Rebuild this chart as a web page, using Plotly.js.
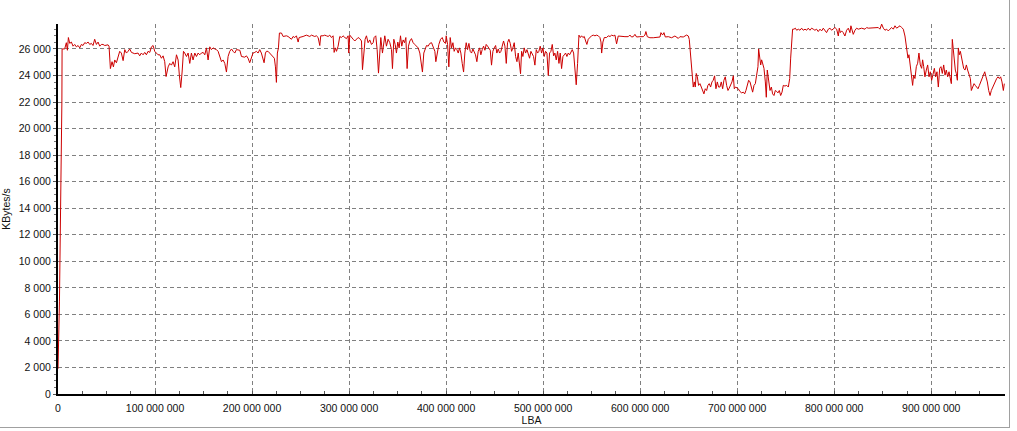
<!DOCTYPE html>
<html>
<head>
<meta charset="utf-8">
<script src="https://cdn.plot.ly/plotly-3.0.1.min.js"></script>
<style>
  html, body { margin: 0; padding: 0; background: #ffffff; }
  #chart { width: 1017px; height: 431px; position: relative; }
  #frame { position: absolute; left: 0; top: 0; width: 1009px; height: 427px;
           border-right: 1px solid #a0a0a0; border-bottom: 1px solid #a0a0a0; pointer-events: none; }
</style>
</head>
<body>
<div id="chart"></div>
<div id="frame"></div>
<script>
// LBA positions (millions of sectors) and transfer rate (KBytes/s)
const lbaMillions = [
  0, 1.5, 4.0,
  4.2, 6.9, 8.6, 9.7, 10.7, 12.1, 13.8, 15.5, 17.2, 18.9, 20.7, 22.4, 24.1, 25.8, 27.5, 29.3, 31.0, 32.7, 34.4, 36.1, 37.8, 39.6, 41.3, 43.0, 44.7, 46.4, 48.2, 51.6, 52.6, 54.0, 55.7, 57.1, 58.5, 60.2, 61.9, 63.6, 65.3, 67.1, 68.8, 70.5, 72.2, 73.9, 75.7, 79.1, 82.5, 84.2, 85.9, 87.7, 89.4, 91.1, 92.8, 94.6, 96.3, 98.0, 99.7, 101.4, 103.1, 104.9, 106.6, 108.3, 110.0, 111.4, 113.5, 115.2, 116.9, 118.6, 120.3, 122.1, 123.8, 125.1, 126.5, 127.9, 129.3, 130.6, 132.4, 134.1, 135.8, 137.5, 139.2, 141.0, 142.7, 144.4, 146.1, 147.8, 149.6, 151.3, 153.0, 154.7, 156.4, 158.1, 159.9, 161.6, 163.3, 165.0, 166.7, 168.5, 170.2, 171.9, 173.6, 175.3, 177.0, 178.8, 180.5, 182.2, 183.9, 185.6, 187.4, 189.1, 190.8, 192.5,
  194.2, 195.9, 197.6, 199.3, 201.0, 202.8, 204.5, 206.2, 207.9, 209.6, 211.4, 212.4, 213.8, 214.8, 216.5, 218.2, 220.0, 221.7, 223.0, 224.1, 225.1, 226.1, 227.2, 228.2, 230.3, 232.0, 235.4, 237.1, 238.9, 240.6, 242.3, 244.0, 245.7, 247.5, 248.5, 250.9, 252.6, 256.0, 257.8, 259.5, 261.2, 264.6, 266.3, 268.1, 269.8, 270.8, 273.2, 274.9, 276.7, 278.4, 280.1, 281.8, 283.5, 284.6, 285.9, 287.0, 288.7, 290.4, 292.1, 293.8, 295.6, 297.3, 299.0, 299.7, 300.7, 302.4, 304.2, 305.9, 307.6, 309.3, 311.0, 312.8, 313.8, 315.2, 316.5, 317.9, 319.6, 321.3, 323.1, 324.8, 325.8, 327.5, 328.9, 330.3, 331.7, 332.7, 334.4, 335.8, 336.8, 338.5, 340.2, 342.0, 343.7, 344.7, 346.1, 347.5, 348.8, 350.2, 351.6, 353.0, 354.3, 355.7, 357.1, 358.5, 359.8, 361.2, 362.6, 364.3, 366.0, 367.7, 369.5, 371.2, 372.9, 374.6, 375.6, 377.0, 378.4, 379.8, 381.5, 383.2,
  385.0, 386.7, 388.4, 389.4, 390.8, 392.5, 394.3, 396.0, 397.7, 399.4, 400.1, 401.5, 402.8, 404.2, 405.6, 407.0, 408.3, 409.7, 411.1, 412.5, 413.8, 415.2, 416.6, 418.0, 419.3, 420.7, 422.1, 423.5, 424.8, 426.2, 427.6, 429.0, 430.3, 431.7, 433.1, 434.5, 435.8, 437.2, 438.6, 440.0, 441.3, 442.7, 444.1, 445.5, 446.8, 448.2, 449.6, 451.0, 452.3, 453.7, 455.1, 456.5, 457.8, 459.2, 460.6, 462.0, 463.3, 464.7, 466.1, 467.5, 468.8, 470.2, 471.6, 473.0, 474.3, 475.7, 476.7, 477.8, 479.1, 480.5, 481.9, 483.3, 484.6, 486.0, 487.4, 488.8, 490.1, 491.5, 492.9, 494.3, 495.6, 497.0, 498.4, 499.8, 501.1, 502.5, 503.9, 505.3, 506.6, 508.0, 509.4, 510.8, 512.1, 513.5, 514.9, 516.3, 517.6, 519.0, 520.4, 521.8, 523.1, 524.5, 525.9, 527.3, 528.6, 530.0, 531.4, 532.8, 534.1, 535.5, 536.9, 538.3, 539.6, 541.0, 542.4, 543.8, 545.1, 546.5, 547.9, 549.9, 551.7, 553.4, 555.1, 556.8, 558.5, 559.6, 560.3, 561.6, 563.0, 565.4, 567.1, 568.9, 570.6, 572.3, 574.0,
  575.7, 577.4, 580.8, 584.3, 587.7, 589.4, 591.1, 592.9, 594.6, 596.3, 599.7, 603.2, 604.9, 605.9, 607.3, 610.0, 613.5, 616.9, 620.4, 621.4, 623.1, 624.5, 625.9, 629.0, 632.4, 635.8, 637.5, 639.3, 641.0, 644.4, 647.9, 649.6, 650.6, 651.6, 652.7, 653.7, 654.7, 655.8, 656.8, 657.8, 658.9, 660.2, 661.6, 663.0, 664.3, 665.7, 667.1, 668.5, 669.8, 671.2, 672.6, 674.0, 675.3, 676.7, 678.1, 679.5, 680.8, 682.2, 683.6, 685.0, 686.3, 687.7, 689.1, 690.5, 691.8, 693.2, 694.6, 696.0, 697.0, 698.4, 699.7, 701.1, 702.8, 704.6, 706.3, 707.7, 709.0, 710.4, 711.8, 713.2, 714.5, 715.9, 717.3, 718.7, 720.0, 721.4, 722.1, 723.1, 724.2, 725.2, 726.2, 727.6, 729.0, 730.0, 731.0, 732.4, 733.8, 735.2, 736.5, 737.9, 739.3, 740.7, 742.0, 743.4, 744.8, 746.2, 747.5, 749.2, 751.0, 752.7, 754.1, 755.1, 756.1, 757.1, 758.5, 759.9, 761.3, 763.0, 764.7, 766.4, 768.1, 769.9, 771.6,
  773.2, 775.0, 776.7, 778.4, 780.1, 781.8, 783.5, 785.3, 787.0, 788.7, 790.4, 792.1, 793.9, 795.6, 797.3, 799.0, 800.7, 802.5, 804.2, 805.2, 806.2, 807.6, 809.3, 811.0, 812.8, 814.5, 816.2, 817.2, 818.6, 819.6, 821.4, 823.1, 824.8, 828.2, 831.7, 833.4, 835.1, 838.5, 842.0, 843.7, 845.4, 847.1, 848.9, 850.6, 852.3, 854.0, 855.7, 857.4, 859.2, 860.9, 862.6, 864.3, 866.0, 867.8, 869.5, 871.2, 872.9, 873.9, 875.0, 876.0, 877.0, 878.1, 879.1, 880.1, 880.8, 881.8, 883.2, 884.6, 886.0, 887.3, 888.7, 890.1, 891.1, 892.2, 893.5, 894.9, 896.3, 897.7, 899.0, 900.4, 901.8, 903.2, 904.5, 905.9, 907.3, 908.7, 910.0, 911.4, 912.8, 914.2, 915.5, 916.9, 918.3, 919.7, 920.7, 921.7, 922.7, 923.8, 924.8, 925.8, 926.9, 927.9, 928.9, 930.0, 931.0, 932.0, 933.4, 934.8, 936.2, 937.5, 938.9, 940.3, 941.3, 942.7, 944.1, 945.4, 946.8, 948.2, 949.6, 950.9, 952.3, 953.7, 955.1, 956.4, 957.8, 959.2, 960.6, 961.9, 963.3, 964.7, 966.1, 967.4, 968.8, 970.2, 971.5, 972.9, 974.3, 975.3
];
const kbytesPerSec = [
  1900, 7000, 22000,
  26000, 26000, 26470, 25900, 26860, 26420, 26520, 26210, 26340, 26160, 26260, 26080, 26340, 26260, 26470, 26420, 26520, 26340, 26420, 26260, 26730, 26340, 26520, 26210, 26340, 26340, 26260, 26310, 26210, 24520, 25040, 24650, 25170, 24960, 25430, 25820, 25690, 25120, 25950, 25690, 25820, 26000, 25740, 25640, 25690, 25480, 25690, 25560, 25740, 25560, 25820, 25740, 26160, 26260, 25820, 25690, 25560, 25560, 25300, 25480, 25040, 23920, 24650, 24910, 24780, 25040, 24650, 25560, 25170, 24000, 23090, 24260, 25820, 25690, 25430, 25690, 24910, 25690, 25170, 25690, 25430, 25690, 25560, 25690, 25740, 25560, 26080, 25170, 26160, 25950, 26080, 26000, 25950, 25820, 25430, 25040, 25170, 24910, 24260, 25430, 25820, 26000, 25820, 25690, 25950, 25950, 25900, 25430, 25380, 25380,
  25480, 25300, 24960, 25430, 25690, 25740, 25820, 25690, 25950, 25690, 25220, 24960, 25690, 25820, 25820, 25690, 25480, 25380, 25300, 24650, 23480, 25690, 26080, 27200, 27200, 26940, 26990, 26940, 26860, 26730, 26940, 26860, 26990, 26520, 26860, 26940, 26940, 27040, 26990, 26940, 27040, 26940, 26990, 26860, 26260, 26990, 26990, 27040, 26990, 26940, 27040, 26860, 26990, 25740, 26080, 25820, 26210, 26940, 26860, 26990, 26860, 26780, 26990, 25690, 27040, 26860, 26730, 26600, 26730, 26860, 26780, 26600, 24440, 26000, 26730, 26990, 26470, 26680, 26340, 26470, 26860, 26990, 25950, 24180, 26470, 26860, 25690, 26470, 26990, 26210, 26730, 26470, 25950, 24520, 26730, 26340, 25690, 26520, 26080, 26990, 26210, 26680, 26470, 26860, 24520, 26210, 26600, 26780, 26470, 26340, 26210, 26080, 25690, 24520, 24260, 25690, 26000, 26260, 26210, 26420,
  26470, 26080, 25820, 25040, 25690, 26340, 26730, 26860, 26520, 26420, 26990, 26340, 24650, 26860, 26080, 26470, 25820, 26080, 25950, 25690, 26080, 25690, 24910, 24260, 25690, 26470, 25950, 26420, 25820, 25690, 26000, 25690, 25560, 25040, 25820, 26080, 25560, 25950, 26210, 25900, 26340, 26210, 26080, 25900, 24780, 25820, 26080, 26260, 25690, 26000, 25690, 25820, 26210, 26600, 26210, 24910, 26470, 26730, 26420, 25820, 26080, 26470, 25430, 25040, 25690, 24910, 24130, 25820, 25430, 26080, 25690, 25950, 25560, 25300, 25820, 25560, 25430, 24780, 25950, 25690, 25820, 26210, 25690, 26080, 25430, 25820, 25690, 24000, 25690, 25820, 26340, 25480, 25690, 25170, 25820, 24910, 25690, 24520, 25430, 25560, 25690, 25430, 25690, 25560, 25820, 25950, 25690, 24000, 23300, 24910, 27040, 26860, 26990, 26860, 26940, 26600, 26340, 26730, 26860, 26990, 27040, 26990, 27040, 26990, 26860, 26520, 25690, 26520, 26860, 26860, 26990, 26940, 27040, 26990, 27040,
  26385, 26975, 26925, 26925, 26925, 27050, 26900, 26925, 27100, 26900, 26925, 26925, 27050, 27310, 26925, 26845, 26845, 26845, 26900, 27230, 27050, 27230, 26900, 26925, 26845, 26975, 26900, 26795, 26925, 26900, 27050, 26975, 26720, 25950, 24795, 23900, 23130, 23515, 23130, 24155, 23900, 23255, 23385, 23130, 22870, 22615, 23000, 22870, 23255, 23385, 23130, 23515, 23640, 23975, 23000, 23515, 23130, 23130, 23515, 23000, 23640, 23900, 23255, 22870, 23050, 23255, 23515, 23975, 23000, 23130, 23050, 23000, 22795, 22690, 22745, 22615, 22870, 23255, 23640, 23515, 23130, 22745, 23255, 23385, 24025, 24665, 26000, 25310, 24795, 25180, 24925, 24540, 23515, 22360, 24410, 23515, 22870, 23130, 22615, 22490, 22870, 22795, 22690, 22870, 22490, 22745, 23255, 23205, 23255, 23130, 23770, 25310, 26845, 27490, 27490, 27565, 27410, 27490, 27410, 27565, 27410, 27490, 27410,
  27565, 27410, 27565, 27490, 27410, 27490, 27310, 27490, 27360, 27565, 27410, 27230, 27490, 27565, 27410, 27490, 27615, 27490, 26975, 27565, 27230, 27360, 27230, 26975, 27410, 27565, 27230, 27745, 27230, 27100, 27410, 27565, 27490, 27565, 27490, 27615, 27565, 27565, 27615, 27565, 27615, 27490, 27870, 27565, 27410, 27490, 27360, 27490, 27615, 27490, 27745, 27565, 27665, 27745, 27615, 27490, 26975, 26335, 25820, 25310, 25565, 24925, 24280, 23900, 23255, 24025, 23770, 24665, 24925, 25690, 24795, 24540, 25180, 24665, 23900, 24410, 24795, 23900, 24280, 23640, 24155, 24540, 23900, 24280, 23130, 24540, 24665, 24155, 24795, 24025, 24410, 23900, 24280, 23770, 23385, 26720, 25820, 25180, 24410, 24155, 23640, 26075, 25565, 25820, 25435, 25050, 24540, 24410, 24795, 24410, 24155, 23770, 22870, 23130, 23385, 23255, 23130, 23000, 23255, 23515, 23640, 24025, 24280, 23900, 23515, 22870, 22490, 22870, 23130, 23385, 23515, 23770, 23900, 23770, 23900, 23515, 22870, 23385
];
const xTitle = 'LBA';
const yTitle = 'KBytes/s';

const lba = lbaMillions.map(v => v * 1e6);

const fontFamily = '"Liberation Sans", Arial, sans-serif';

const trace = {
  x: lba,
  y: kbytesPerSec,
  type: 'scatter',
  mode: 'lines',
  line: { color: '#cc0000', width: 1 },
  hoverinfo: 'x+y'
};

const gridDash = '4px,3px';

const layout = {
  width: 1017,
  height: 431,
  margin: { l: 58, r: 12, t: 24, b: 37 },
  paper_bgcolor: '#ffffff',
  plot_bgcolor: '#ffffff',
  separators: '. ',
  showlegend: false,
  font: { family: fontFamily, size: 10.5, color: '#111111' },
  xaxis: {
    range: [0, 976e6],
    tick0: 0,
    dtick: 100e6,
    tickformat: ',d',
    showline: true,
    linecolor: '#000000',
    linewidth: 2,
    zeroline: false,
    showgrid: true,
    gridcolor: '#808080',
    gridwidth: 1,
    griddash: gridDash,
    ticks: 'inside',
    ticklen: 3,
    tickcolor: '#555555',
    ticklabelstandoff: 3,
    tickfont: { family: fontFamily, size: 10.5, color: '#111111' },
    minor: { dtick: 25e6, ticks: 'inside', ticklen: 3, tickcolor: '#555555', showgrid: false },
    title: { text: xTitle, font: { family: fontFamily, size: 10.5, color: '#111111' }, standoff: 0 },
    automargin: false,
    fixedrange: true
  },
  yaxis: {
    range: [0, 27880],
    tick0: 0,
    dtick: 2000,
    tickformat: ',d',
    showline: true,
    linecolor: '#000000',
    linewidth: 2,
    zeroline: false,
    showgrid: true,
    gridcolor: '#808080',
    gridwidth: 1,
    griddash: gridDash,
    ticks: 'outside',
    ticklen: 3,
    tickcolor: '#555555',
    tickfont: { family: fontFamily, size: 10.5, color: '#111111' },
    minor: { dtick: 500, ticks: 'outside', ticklen: 2, tickcolor: '#777777', showgrid: false },
    title: { text: yTitle, font: { family: fontFamily, size: 10.5, color: '#111111' }, standoff: 6 },
    automargin: false,
    fixedrange: true
  }
};

Plotly.newPlot('chart', [trace], layout, { displayModeBar: false, staticPlot: true });
</script>
</body>
</html>
